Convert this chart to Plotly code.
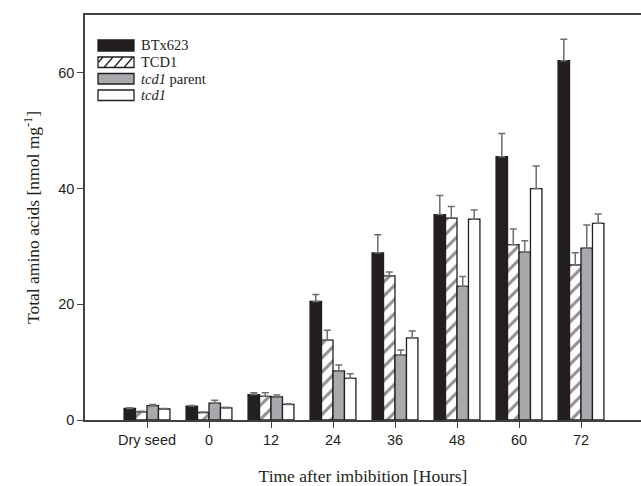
import plotly.graph_objects as go

categories = ["Dry seed", "0", "12", "24", "36", "48", "60", "72"]
btx623 = [2.0, 2.4, 4.4, 20.5, 28.9, 35.5, 45.5, 62.1]
btx623_err = [0.1, 0.1, 0.3, 1.2, 3.1, 3.3, 4.0, 3.7]
tcd1_upper = [1.4, 1.3, 4.1, 13.8, 24.9, 34.9, 30.3, 26.8]
tcd1_upper_err = [0.1, 0.1, 0.6, 1.7, 0.7, 2.0, 2.7, 2.1]
tcd1_parent = [2.5, 2.9, 4.0, 8.5, 11.2, 23.1, 29.0, 29.7]
tcd1_parent_err = [0.2, 0.5, 0.3, 1.0, 0.9, 1.7, 2.0, 4.0]
tcd1 = [1.9, 2.1, 2.7, 7.2, 14.2, 34.7, 40.0, 34.0]
tcd1_err = [0.1, 0.1, 0.1, 0.8, 1.2, 1.6, 3.9, 1.6]

xpos = list(range(len(categories)))
DARK = "#231f20"
GRAY = "#a7a9ac"
ERR = "#6d6e71"

series = [
    ("BTx623", btx623, btx623_err, dict(color=DARK)),
    ("TCD1", tcd1_upper, tcd1_upper_err,
     dict(color="white", pattern=dict(shape="/", fgcolor=DARK, bgcolor="white", size=10, solidity=0.3))),
    ("tcd1 parent", tcd1_parent, tcd1_parent_err, dict(color=GRAY)),
    ("tcd1", tcd1, tcd1_err, dict(color="white")),
]

fig = go.Figure()
for name, vals, errs, mk in series:
    mk = dict(mk)
    mk["line"] = dict(color=DARK, width=1.3)
    fig.add_trace(go.Bar(
        x=xpos, y=vals, name=name, marker=mk, showlegend=False,
        error_y=dict(type="data", array=errs, arrayminus=[0] * len(errs), symmetric=False,
                     color=ERR, thickness=1.5, width=3.5),
    ))

# Plot area geometry (pixels) for the hand-drawn legend
L, R, T, B = 85, 641, 15, 420
def px(x):
    return (x - L) / (R - L)
def py(y):
    return (B - y) / (B - T)

shapes = []
annotations = []
rows = [
    ("BTx623", 40, 51, DARK, False),
    ("TCD1", 57, 67.5, "white", True),
    ("<i>tcd1</i> parent", 73.5, 84, GRAY, False),
    ("<i>tcd1</i>", 90, 100.5, "white", False),
]
for label, y0, y1, fill, hatch in rows:
    shapes.append(dict(type="rect", xref="paper", yref="paper",
                       x0=px(98), x1=px(134), y0=py(y1), y1=py(y0),
                       fillcolor=fill, line=dict(color=DARK, width=1.3), layer="above"))
    if hatch:
        for xs in [103, 113, 123, 133]:
            shapes.append(dict(type="line", xref="paper", yref="paper",
                               x0=px(max(xs - 9, 98.5)), y0=py(y1 - (max(xs - 9, 98.5) - (xs - 9)) * (y1 - y0) / 9),
                               x1=px(min(xs, 133.5)), y1=py(y0 + (xs - min(xs, 133.5)) * (y1 - y0) / 9),
                               line=dict(color=DARK, width=1.3), layer="above"))
    annotations.append(dict(text=label, xref="paper", yref="paper",
                            x=px(139), y=py((y0 + y1) / 2), xanchor="left", yanchor="middle",
                            showarrow=False,
                            font=dict(family="Liberation Serif", size=14.5, color="#231f20")))

fig.update_layout(
    width=641, height=486,
    margin=dict(l=L, r=641 - R, t=T, b=486 - B),
    paper_bgcolor="white", plot_bgcolor="white",
    barmode="group", bargap=0.26, bargroupgap=0,
    shapes=shapes, annotations=annotations,
    font=dict(family="Liberation Sans", size=14, color="#231f20"),
    xaxis=dict(
        range=[-1, (R - L) / 62 - 1], tickvals=xpos, ticktext=categories,
        showgrid=False, zeroline=False, showline=True, linecolor="#414042", linewidth=1.5,
        mirror=True, ticks="outside", ticklen=6, tickcolor="#414042", tickwidth=1.2,
        tickfont=dict(family="Liberation Sans", size=14.5),
        title=dict(text="Time after imbibition [Hours]", standoff=24,
                   font=dict(family="Liberation Serif", size=17.5)),
    ),
    yaxis=dict(
        range=[0, 70], tickvals=[0, 20, 40, 60],
        showgrid=False, zeroline=False, showline=True, linecolor="#414042", linewidth=1.5,
        ticks="outside", ticklen=6, tickcolor="#414042", tickwidth=1.2,
        tickfont=dict(family="Liberation Sans", size=14.5),
        title=dict(text="Total amino acids [nmol mg<sup>-1</sup>]", standoff=14,
                   font=dict(family="Liberation Serif", size=17.5)),
    ),
)

fig.write_html("out.html", config={"displayModeBar": False},
               post_script="document.body.style.margin='0';document.body.style.overflow='hidden';")
